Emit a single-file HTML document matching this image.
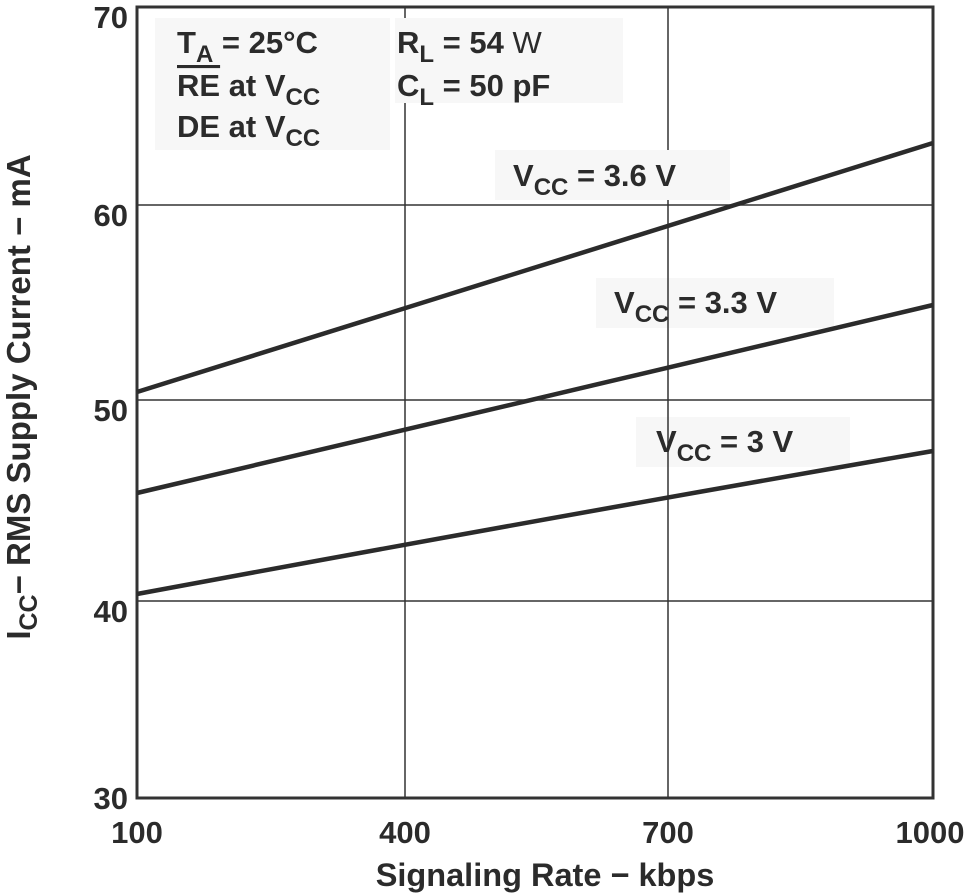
<!DOCTYPE html><html><head><style>body{margin:0;background:#fff}svg{display:block}text{font-family:"Liberation Sans",sans-serif;font-weight:bold;fill:#2b2b2b}</style></head><body>
<svg width="967" height="894" viewBox="0 0 967 894">
<rect x="155" y="18" width="235" height="132" fill="#f7f7f7"/>
<rect x="395" y="18" width="228" height="85" fill="#f7f7f7"/>
<rect x="495" y="150" width="235" height="50" fill="#f7f7f7"/>
<rect x="596" y="278" width="238" height="50" fill="#f7f7f7"/>
<rect x="636" y="417" width="214" height="50" fill="#f7f7f7"/>
<g stroke="#333" stroke-width="1.5">
<line x1="137" y1="205" x2="933" y2="205"/><line x1="137" y1="400" x2="933" y2="400"/><line x1="137" y1="601" x2="933" y2="601"/>
<line x1="405" y1="7" x2="405" y2="18"/><line x1="405" y1="103" x2="405" y2="798"/>
<line x1="668" y1="7" x2="668" y2="150"/><line x1="668" y1="200" x2="668" y2="798"/>
</g>
<rect x="137" y="7" width="796" height="791" fill="none" stroke="#333" stroke-width="3"/>
<g fill="none" stroke="#2b2b2b" stroke-width="4.5">
<line x1="137" y1="392" x2="933" y2="143"/>
<line x1="137" y1="493" x2="933" y2="305"/>
<path d="M137 594 Q535 520 933 451"/>
</g>
<g font-size="31" text-anchor="end">
<text x="128" y="28">70</text><text x="128" y="226">60</text><text x="128" y="421">50</text><text x="128" y="622">40</text><text x="128" y="809">30</text>
</g>
<g font-size="31" text-anchor="middle">
<text x="137" y="843">100</text><text x="405" y="843">400</text><text x="668" y="843">700</text><text x="930" y="843">1000</text>
<text x="545" y="886" font-size="32.5">Signaling Rate − kbps</text>
</g>
<text transform="translate(30,397) rotate(-90)" font-size="33" text-anchor="middle">I<tspan font-size="25" dy="7">CC</tspan><tspan dy="-7">− RMS Supply Current − mA</tspan></text>
<g font-size="31">
<text x="177" y="53">T<tspan font-size="24" dy="9">A</tspan><tspan dy="-9"> = 25°C</tspan></text>
<text x="177" y="96"><tspan text-decoration="overline">RE</tspan> at V<tspan font-size="24" dy="9">CC</tspan></text>
<text x="177" y="137">DE at V<tspan font-size="24" dy="9">CC</tspan></text>
<text x="397" y="53">R<tspan font-size="24" dy="9">L</tspan><tspan dy="-9"> = 54 </tspan><tspan font-weight="normal">W</tspan></text>
<text x="397" y="96">C<tspan font-size="24" dy="9">L</tspan><tspan dy="-9"> = 50 pF</tspan></text>
<text x="513" y="186">V<tspan font-size="24" dy="9">CC</tspan><tspan dy="-9"> = 3.6 V</tspan></text>
<text x="614" y="313">V<tspan font-size="24" dy="9">CC</tspan><tspan dy="-9"> = 3.3 V</tspan></text>
<text x="656" y="452">V<tspan font-size="24" dy="9">CC</tspan><tspan dy="-9"> = 3 V</tspan></text>
</g>
</svg></body></html>
